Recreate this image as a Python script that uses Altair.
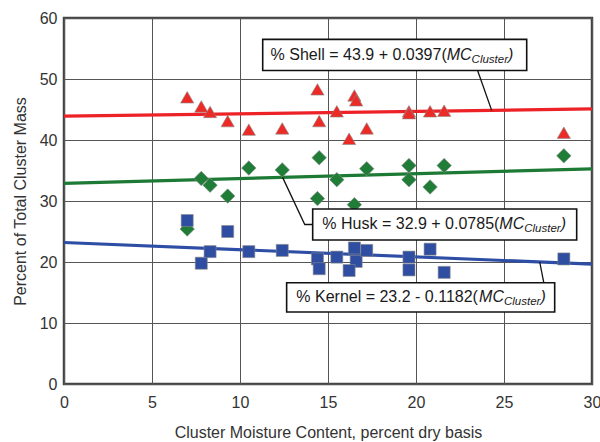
import altair as alt
import pandas as pd

# ---------------- data ----------------
shell_x = [7.0, 7.8, 8.3, 9.3, 10.5, 12.4, 14.4, 14.5, 15.5, 16.2, 16.5, 16.6, 17.2, 19.6, 19.6, 20.8, 21.6, 28.4]
shell_y = [47.0, 45.5, 44.6, 43.1, 41.7, 41.9, 48.3, 43.1, 44.7, 40.2, 47.3, 46.5, 41.9, 44.7, 44.4, 44.7, 44.8, 41.2]

husk_x = [7.0, 7.8, 8.3, 9.3, 10.5, 12.4, 14.4, 14.5, 15.5, 16.5, 17.2, 19.6, 19.6, 20.8, 21.6, 28.4]
husk_y = [25.4, 33.7, 32.6, 30.8, 35.4, 35.1, 30.4, 37.1, 33.5, 29.4, 35.3, 35.8, 33.5, 32.3, 35.8, 37.4]

kernel_x = [7.0, 7.8, 8.3, 9.3, 10.5, 12.4, 14.4, 14.5, 15.5, 16.5, 16.6, 16.2, 17.2, 19.6, 19.6, 20.8, 21.6, 28.4]
kernel_y = [26.8, 19.8, 21.7, 25.0, 21.7, 21.9, 20.5, 18.9, 20.8, 22.3, 20.1, 18.6, 21.9, 20.8, 18.7, 22.1, 18.3, 20.5]

# fitted lines (end points, from the printed equations)
fit_x = [0, 30]
shell_fit = [43.9, 45.09]
husk_fit = [32.9, 35.26]
kernel_fit = [23.2, 19.65]

series = ["Shell", "Husk", "Kernel"]
eq_prefix = ["% Shell = 43.9 + 0.0397(", "% Husk = 32.9 + 0.0785(", "% Kernel = 23.2 - 0.1182("]

x_ticks = [0, 5, 10, 15, 20, 25, 30]
y_ticks = [0, 10, 20, 30, 40, 50, 60]

# ---------------- layout ----------------
W, H = 528, 366
PX_PER_X = W / 30.0
FONT = "Liberation Sans"

marker_colors = {"Shell": "#ec2a26", "Husk": "#1f7d37", "Kernel": "#2f4ea1"}
line_colors = ["#ec2227", "#1d7a35", "#2e4ea6"]
shapes = {"Shell": "triangle-up", "Husk": "diamond", "Kernel": "square"}
marker_sizes = {"Shell": 175, "Husk": 210, "Kernel": 145}

# annotation boxes (data coords): x1, x2, ytop, ybottom, text-x start
boxes = {
    "Shell": (11.29, 26.29, 56.5, 51.4, 11.74),
    "Husk": (14.13, 29.13, 28.7, 23.6, 14.68),
    "Kernel": (12.65, 27.88, 16.6, 11.8, 13.20),
}
leaders = {
    "Shell": [(23.5, 51.4), (24.3, 44.86)],
    "Husk": [(12.42, 33.87), (13.68, 26.15), (14.13, 26.15)],
    "Kernel": [(27.03, 20.0), (27.26, 16.6)],
}

ARIAL = {'%': 889, ' ': 278, 'S': 667, 'h': 556, 'e': 556, 'l': 222, '=': 584, '+': 584,
         '-': 333, '.': 278, '(': 333, ')': 333, 'H': 722, 'u': 556, 's': 500, 'k': 500,
         'K': 667, 'r': 333, 'n': 556, 'M': 833, 'C': 722, 't': 278}


def tw(s, size):
    return sum(ARIAL.get(c, 556) for c in s) * size / 1000.0


# ---------------- tables ----------------
pt_tables = {
    "Shell": pd.DataFrame({"x": shell_x, "y": shell_y}),
    "Husk": pd.DataFrame({"x": husk_x, "y": husk_y}),
    "Kernel": pd.DataFrame({"x": kernel_x, "y": kernel_y}),
}
fits = pd.concat([
    pd.DataFrame({"x": fit_x, "y": shell_fit, "s": "Shell"}),
    pd.DataFrame({"x": fit_x, "y": husk_fit, "s": "Husk"}),
    pd.DataFrame({"x": fit_x, "y": kernel_fit, "s": "Kernel"}),
])

box_rows, lead_rows, t_norm, t_ital, t_sub, t_par = [], [], [], [], [], []
for name, pre in zip(series, eq_prefix):
    x1, x2, yt, yb, xs = boxes[name]
    box_rows.append({"x": x1, "x2": x2, "y": yt, "y2": yb})
    for i, (lx, ly) in enumerate(leaders[name]):
        lead_rows.append({"id": name, "o": i, "x": lx, "y": ly})
    yc = (yt + yb) / 2
    w_pre = tw(pre, 16)
    w_mc = tw("MC", 16)
    w_sub = tw("Cluster", 11.5)
    t_norm.append({"x": xs, "y": yc, "t": pre})
    t_ital.append({"x": xs + w_pre / PX_PER_X, "y": yc, "t": "MC"})
    t_sub.append({"x": xs + (w_pre + w_mc) / PX_PER_X, "y": yc, "t": "Cluster"})
    t_par.append({"x": xs + (w_pre + w_mc + w_sub) / PX_PER_X, "y": yc, "t": ")"})

xscale = alt.Scale(domain=[0, 30], nice=False, zero=False)
yscale = alt.Scale(domain=[0, 60], nice=False, zero=False)

X = alt.X("x:Q", scale=xscale,
          axis=alt.Axis(values=x_ticks, title="Cluster Moisture Content, percent dry basis",
                        titlePadding=14, labelPadding=10))
Y = alt.Y("y:Q", scale=yscale,
          axis=alt.Axis(values=y_ticks, title="Percent of Total Cluster Mass",
                        titlePadding=11, labelPadding=7))

base_lines = alt.Chart(fits).mark_line(strokeWidth=3.2).encode(
    x=X, y=Y,
    color=alt.Color("s:N", scale=alt.Scale(domain=series, range=line_colors), legend=None),
    detail="s:N",
)

point_layers = [
    alt.Chart(pt_tables[s]).mark_point(
        filled=True, opacity=1, stroke="#8a8a8a", strokeWidth=0.6,
        fill=marker_colors[s], shape=shapes[s], size=marker_sizes[s],
    ).encode(x="x:Q", y="y:Q")
    for s in series
]

leader_lines = alt.Chart(pd.DataFrame(lead_rows)).mark_line(color="#111", strokeWidth=1.3).encode(
    x="x:Q", y="y:Q", detail="id:N", order="o:Q")

rects = alt.Chart(pd.DataFrame(box_rows)).mark_rect(fill="white", stroke="#111",
                                                    strokeWidth=1.6).encode(
    x="x:Q", x2="x2:Q", y="y:Q", y2="y2:Q")

txt_common = dict(align="left", baseline="middle", font=FONT, color="#1a1a1a")
txt1 = alt.Chart(pd.DataFrame(t_norm)).mark_text(fontSize=16, **txt_common).encode(
    x="x:Q", y="y:Q", text="t:N")
txt2 = alt.Chart(pd.DataFrame(t_ital)).mark_text(fontSize=16, fontStyle="italic", **txt_common).encode(
    x="x:Q", y="y:Q", text="t:N")
txt3 = alt.Chart(pd.DataFrame(t_sub)).mark_text(fontSize=11.5, fontStyle="italic", dy=5,
                                                **txt_common).encode(
    x="x:Q", y="y:Q", text="t:N")
txt4 = alt.Chart(pd.DataFrame(t_par)).mark_text(fontSize=16, fontStyle="italic", **txt_common).encode(
    x="x:Q", y="y:Q", text="t:N")

chart = alt.layer(base_lines, *point_layers, leader_lines, rects, txt1, txt2, txt3, txt4).properties(
    width=W, height=H,
    padding={"left": 64, "top": 18, "right": 8, "bottom": 58},
    autosize=alt.AutoSizeParams(type="none"),
    background="white",
).configure_view(
    stroke="#444", strokeWidth=2.5
).configure_axis(
    grid=True, gridColor="#555", gridWidth=1, gridOpacity=1,
    domain=False, ticks=False,
    labelFont=FONT, titleFont=FONT, labelFontSize=16, titleFontSize=16,
    labelColor="#333", titleColor="#333", titleFontWeight="normal",
    labelFlush=False, labelOverlap=False,
)

chart.save("out.html", embed_options={"renderer": "svg", "actions": False})
